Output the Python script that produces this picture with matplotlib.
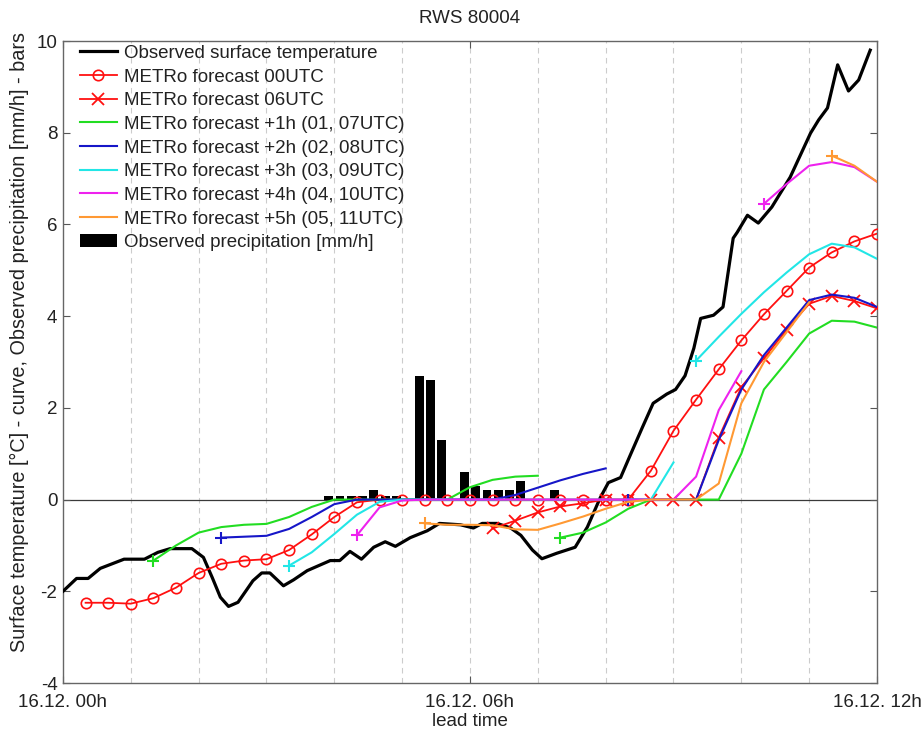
import matplotlib
matplotlib.use('Agg')
import matplotlib.pyplot as plt

plt.rcParams['font.family'] = ['Liberation Sans', 'DejaVu Sans']
plt.rcParams['axes.unicode_minus'] = False

# ---------------- data (hours after 16.12. 00h) ----------------
obs_t = [0.0, 0.2, 0.37, 0.55, 0.9, 1.2, 1.4, 1.58, 1.9, 2.07, 2.2, 2.32, 2.44, 2.58,
         2.8, 2.93, 3.05, 3.25, 3.4, 3.6, 3.94, 4.08, 4.23, 4.4, 4.58, 4.75, 4.9, 5.12,
         5.37, 5.55, 5.86, 6.05, 6.18, 6.4, 6.6, 6.75, 6.92, 7.06, 7.28, 7.55, 7.73,
         7.92, 8.04, 8.22, 8.36, 8.54, 8.7, 8.9, 9.03, 9.17, 9.3, 9.4, 9.59, 9.73, 9.88,
         9.94, 10.09, 10.25, 10.45, 10.72, 11.02, 11.14, 11.27, 11.42, 11.58, 11.73, 11.9]
obs_v = [-2.0, -1.72, -1.72, -1.5, -1.3, -1.3, -1.15, -1.07, -1.07, -1.26, -1.7, -2.13,
         -2.33, -2.24, -1.77, -1.6, -1.6, -1.88, -1.75, -1.55, -1.33, -1.33, -1.13, -1.3,
         -1.04, -0.92, -1.02, -0.83, -0.68, -0.52, -0.55, -0.62, -0.52, -0.52, -0.62,
         -0.78, -1.1, -1.29, -1.17, -1.04, -0.6, 0.04, 0.37, 0.48, 0.96, 1.57, 2.1, 2.3,
         2.4, 2.7, 3.3, 3.95, 4.02, 4.2, 5.7, 5.83, 6.2, 6.03, 6.38, 7.03, 7.99, 8.28,
         8.54, 9.48, 8.91, 9.15, 9.8]

f00_t = [0.333, 0.667, 1.0, 1.333, 1.667, 2.0, 2.333, 2.667, 3.0, 3.333, 3.667, 4.0,
         4.333, 4.667, 5.0, 5.333, 5.667, 6.0, 6.333, 6.667, 7.0, 7.333, 7.667, 8.0,
         8.333, 8.667, 9.0, 9.333, 9.667, 10.0, 10.333, 10.667, 11.0, 11.333, 11.667, 12.0]
f00_v = [-2.25, -2.25, -2.27, -2.15, -1.92, -1.6, -1.4, -1.33, -1.3, -1.1, -0.76, -0.38,
         -0.06, 0, 0, 0, 0, 0, 0, 0, 0, 0, 0, 0, 0, 0.63, 1.5, 2.18, 2.84, 3.47, 4.04,
         4.55, 5.06, 5.39, 5.63, 5.8]

f06_t = [6.333, 6.667, 7.0, 7.333, 7.667, 8.0, 8.333, 8.667, 9.0, 9.333, 9.667, 10.0,
         10.333, 10.667, 11.0, 11.333, 11.667, 12.0]
f06_v = [-0.63, -0.46, -0.28, -0.15, -0.08, 0, 0, 0, 0, 0, 1.35, 2.45, 3.08, 3.7, 4.27,
         4.44, 4.33, 4.17]

# +1h forecasts (01 and 07 UTC runs)
g1_t = [1.333, 1.667, 2.0, 2.333, 2.667, 3.0, 3.333, 3.667, 4.0, 5.667, 6.0, 6.333, 6.667, 7.0]
g1_v = [-1.33, -1.0, -0.72, -0.6, -0.55, -0.53, -0.38, -0.16, 0, 0, 0.27, 0.43, 0.5, 0.52]
g2_t = [7.333, 7.667, 8.0, 8.333, 8.667, 9.667, 10.0, 10.333, 10.667, 11.0, 11.333, 11.667, 12.0]
g2_v = [-0.83, -0.72, -0.5, -0.2, 0, 0, 1.0, 2.4, 3.0, 3.62, 3.9, 3.88, 3.75]
# +2h forecasts (02 and 08 UTC runs)
b1_t = [2.333, 2.667, 3.0, 3.333, 3.667, 4.0, 4.333, 6.333, 6.667, 7.0, 7.333, 7.667, 8.0]
b1_v = [-0.83, -0.81, -0.79, -0.64, -0.38, -0.1, 0, 0, 0.1, 0.26, 0.42, 0.56, 0.68]
b2_t = [8.333, 9.333, 9.667, 10.0, 10.333, 10.667, 11.0, 11.333, 11.667, 12.0]
b2_v = [0, 0, 1.3, 2.4, 3.15, 3.75, 4.35, 4.47, 4.4, 4.2]
# +3h forecasts (03 and 09 UTC runs)
c1_t = [3.333, 3.667, 4.0, 4.333, 4.667, 5.0, 8.667, 9.0]
c1_v = [-1.44, -1.15, -0.75, -0.33, -0.05, 0, 0, 0.81]
c2_t = [9.333, 9.667, 10.0, 10.333, 10.667, 11.0, 11.333, 11.667, 12.0]
c2_v = [3.03, 3.55, 4.05, 4.52, 4.95, 5.35, 5.58, 5.5, 5.25]
# +4h forecasts (04 and 10 UTC runs)
m1_t = [4.333, 4.667, 5.0, 5.333, 9.0, 9.333, 9.667, 10.0]
m1_v = [-0.78, -0.17, -0.02, 0, 0, 0.5, 1.95, 2.8]
m2_t = [10.333, 10.667, 11.0, 11.333, 11.667, 12.0]
m2_v = [6.45, 6.88, 7.28, 7.36, 7.25, 6.93]
# +5h forecasts (05 and 11 UTC runs)
o1_t = [5.333, 5.667, 6.0, 6.333, 6.667, 7.0, 7.333, 7.667, 8.0, 8.333, 8.667, 9.333,
        9.667, 10.0, 10.333, 10.667, 11.0]
o1_v = [-0.52, -0.55, -0.55, -0.56, -0.65, -0.66, -0.52, -0.37, -0.2, -0.05, 0, 0,
        0.35, 2.1, 3.0, 3.65, 4.3]
o2_t = [11.333, 11.667, 12.0]
o2_v = [7.5, 7.28, 6.93]

precip_t = [3.917, 4.083, 4.25, 4.417, 4.583, 4.75, 4.917, 5.25, 5.417, 5.583, 5.917,
            6.083, 6.25, 6.417, 6.583, 6.75, 7.25]
precip_v = [0.07, 0.07, 0.07, 0.07, 0.2, 0.08, 0.07, 2.7, 2.6, 1.3, 0.6, 0.3, 0.2, 0.2,
            0.2, 0.4, 0.2]

grid_hours = [1, 2, 3, 4, 5, 6, 7, 8, 9, 10, 11]
x_ticks = [0, 6, 12]
x_ticklabels = ['16.12. 00h', '16.12. 06h', '16.12. 12h']
y_ticks = [-4, -2, 0, 2, 4, 6, 8, 10]

labels = ['Observed surface temperature', 'METRo forecast 00UTC', 'METRo forecast 06UTC',
          'METRo forecast +1h (01, 07UTC)', 'METRo forecast +2h (02, 08UTC)',
          'METRo forecast +3h (03, 09UTC)', 'METRo forecast +4h (04, 10UTC)',
          'METRo forecast +5h (05, 11UTC)', 'Observed precipitation [mm/h]']

# ---------------- figure ----------------
fs = 13.5
fig = plt.figure(figsize=(9.24, 7.31), dpi=100)
ax = fig.add_axes([63 / 924, 1 - 683 / 731, (877 - 63) / 924, (683 - 41) / 731])

for h in grid_hours:
    ax.axvline(h, color='#cccccc', lw=0.8, ls=(0, (5, 4)), zorder=0)
ax.axhline(0, color='#3a3a3a', lw=0.9, zorder=1)

bars = ax.bar(precip_t, precip_v, width=0.13, color='black', zorder=2)

h_obs, = ax.plot(obs_t, obs_v, color='black', lw=2.3, zorder=3)
h00, = ax.plot(f00_t, f00_v, '-o', color='#ff1010', lw=1.3, ms=7.5, mfc='none', mew=1.2, zorder=4)
h06, = ax.plot(f06_t, f06_v, '-x', color='#ff1010', lw=1.3, ms=9, mew=1.3, zorder=4)

colored = [
    ('#22dd22', [(g1_t, g1_v), (g2_t, g2_v)]),
    ('#1616c8', [(b1_t, b1_v), (b2_t, b2_v)]),
    ('#22e6e6', [(c1_t, c1_v), (c2_t, c2_v)]),
    ('#ee22ee', [(m1_t, m1_v), (m2_t, m2_v)]),
    ('#ff9933', [(o1_t, o1_v), (o2_t, o2_v)]),
]
col_handles = []
for color, segs in colored:
    hh = None
    for t, v in segs:
        ln, = ax.plot(t, v, color=color, lw=1.5, zorder=5)
        ax.plot(t[:1], v[:1], '+', color=color, ms=8, mew=1.5, zorder=5)
        if hh is None:
            hh = ln
    col_handles.append(hh)

ax.set_xlim(0, 12)
ax.set_ylim(-4, 10)
ax.set_xticks(x_ticks)
ax.set_xticklabels(x_ticklabels)
ax.set_yticks(y_ticks)
ax.tick_params(direction='in', length=5, width=0.8, colors='#555555', labelcolor='#222222',
               labelsize=fs, top=True, right=True)
ax.tick_params(axis='x', pad=8)
ax.tick_params(axis='y', pad=4)
for s in ax.spines.values():
    s.set_color('#666666')
    s.set_linewidth(1.0)

ax.set_title('RWS 80004', fontsize=fs, color='#222222', pad=13)
ax.set_xlabel('lead time', fontsize=fs, color='#222222', labelpad=1)
ax.set_ylabel('Surface temperature [°C] - curve, Observed precipitation [mm/h] - bars',
              fontsize=14.3, color='#222222')
ax.yaxis.set_label_coords(-0.042, 0.531)

handles = [h_obs, h00, h06] + col_handles + [bars]
leg = ax.legend(handles, labels, loc='upper left', bbox_to_anchor=(13 / 814, 1.0),
                frameon=False, fontsize=fs, handlelength=2.0, handletextpad=0.35,
                labelspacing=0.35, numpoints=1, borderaxespad=0.0, borderpad=0.2)
for t in leg.get_texts():
    t.set_color('#222222')

fig.savefig('out.png', dpi=100)
